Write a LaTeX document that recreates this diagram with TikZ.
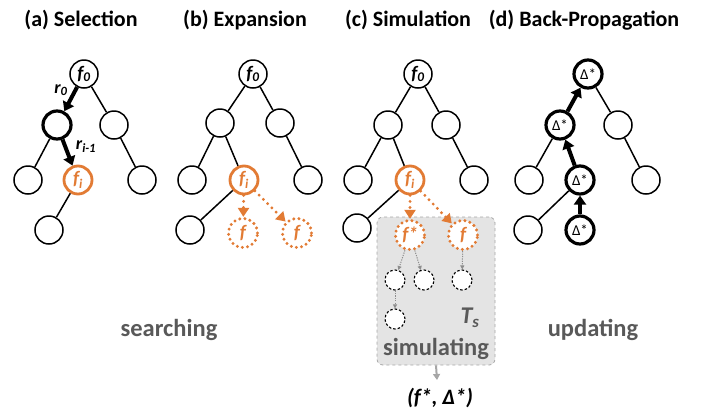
\documentclass[tikz,border=0pt]{standalone}
\usepackage{fontspec}
\setmainfont{Carlito}
\usetikzlibrary{arrows.meta}
\definecolor{myorange}{HTML}{E27B34}
\definecolor{txtgray}{HTML}{595959}
\definecolor{boxgray}{HTML}{E4E4E4}
\definecolor{linegray}{HTML}{A6A6A6}
\newcommand{\fl}[1]{{\fontsize{19}{19}\selectfont\bfseries\itshape f\textsubscript{#1}}}
\newcommand{\dl}{{\fontsize{15}{15}\selectfont Δ*}}
\begin{document}
\begin{tikzpicture}[x=1pt,y=-1pt,
  nd/.style={circle, draw=black, line width=1.5pt, minimum size=28pt, inner sep=0pt, fill=white},
  hot/.style={nd, draw=myorange, line width=2.8pt, text=myorange},
  boldnd/.style={nd, line width=3.2pt},
  dnode/.style={circle, minimum size=29pt, inner sep=0pt, fill=white, draw=myorange, line width=3.3pt, dash pattern=on 0pt off 5.2pt, line cap=round, text=myorange},
  sdash/.style={circle, minimum size=20pt, inner sep=0pt, draw=black, fill=white, line width=1.1pt, dash pattern=on 2.5pt off 2pt},
  edge/.style={line width=1.5pt},
  bigarrow/.style={line width=4pt, -{Triangle[length=9pt,width=12pt]}},
  odot/.style={draw=myorange, line width=3.2pt, dash pattern=on 0pt off 6pt, line cap=round, -{Triangle[length=9pt,width=11pt]}},
  gdot/.style={draw=linegray!85!black, line width=1pt, dash pattern=on 1.2pt off 1.2pt, -{Triangle[length=4pt,width=4pt]}},
  garrow/.style={draw=linegray, line width=2pt, -{Triangle[length=6pt,width=7pt]}},
  ttl/.style={font=\fontsize{22}{22}\selectfont\bfseries},
  glab/.style={font=\fontsize{24.5}{24.5}\selectfont\bfseries, text=txtgray},
  rlab/.style={font=\fontsize{18}{18}\selectfont\bfseries\itshape}
]
\useasboundingbox (0,0) rectangle (717,413);

% titles
\node[ttl] (ta) at (81,20) {(a) Selection};
\node[ttl] (tb) at (245,20) {(b) Expansion};
\node[ttl] (tc) at (408,20) {(c) Simulation};
\node[ttl] (td) at (584,20) {(d) Back-Propagation};

% ---------- tree a
\node[nd] (a0) at (84,74) {\fl{0}};
\node[boldnd] (aL) at (57,125) {};
\node[nd] (aR) at (114,125) {};
\node[nd] (aLL) at (28,180) {};
\node[hot] (ai) at (78,180) {\fl{i}};
\node[nd] (aRR) at (142,180) {};
\node[nd] (aLLL) at (49,230) {};
\draw[edge] (a0) -- (aR);
\draw[edge] (aL) -- (aLL);
\draw[edge] (aR) -- (aRR);
\draw[edge] (ai) -- (aLLL);
\draw[bigarrow] (a0) -- (aL);
\draw[bigarrow] (aL) -- (ai);
\node[rlab] (r0) at (61,90) {r\textsubscript{0}};
\node[rlab] (ri) at (86,147) {r\textsubscript{i-1}};

% ---------- tree b
\node[nd] (b0) at (253,74) {\fl{0}};
\node[nd] (bL) at (220,123) {};
\node[nd] (bR) at (280,123) {};
\node[nd] (bLL) at (192,180) {};
\node[hot] (bi) at (244,180) {\fl{i}};
\node[nd] (bRR) at (308,180) {};
\node[nd] (bLLL) at (190,230) {};
\node[dnode] (bc1) at (243,233) {\fontsize{19}{19}\selectfont\bfseries\itshape f};
\node[dnode] (bc2) at (297,233) {\fontsize{19}{19}\selectfont\bfseries\itshape f};
\draw[edge] (b0) -- (bL);
\draw[edge] (b0) -- (bR);
\draw[edge] (bL) -- (bLL);
\draw[edge] (bL) -- (bi);
\draw[edge] (bR) -- (bRR);
\draw[edge] (bi) -- (bLLL);
\draw[odot] (bi) -- (bc1);
\draw[odot] (bi) -- (bc2);

% ---------- tree c
\node[draw=linegray, dashed, line width=0.8pt, fill=boxgray, rounded corners=6pt, minimum width=118pt, minimum height=148pt] (box) at (436,291) {};
\node[nd] (c0) at (418,74) {\fl{0}};
\node[nd] (cL) at (388,125) {};
\node[nd] (cR) at (446,125) {};
\node[nd] (cLL) at (358,180) {};
\node[hot] (ci) at (410,180) {\fl{i}};
\node[nd] (cRR) at (474,180) {};
\node[nd] (cLLL) at (357,228) {};
\node[dnode] (cs) at (410,235) {\fontsize{19}{19}\selectfont\bfseries\itshape f*};
\node[dnode] (cf) at (463,235) {\fontsize{19}{19}\selectfont\bfseries\itshape f};
\node[sdash] (d1) at (395,280) {};
\node[sdash] (d2) at (424,280) {};
\node[sdash] (d3) at (462,280) {};
\node[sdash] (d4) at (395,319) {};
\draw[edge] (c0) -- (cL);
\draw[edge] (c0) -- (cR);
\draw[edge] (cL) -- (cLL);
\draw[edge] (cL) -- (ci);
\draw[edge] (cR) -- (cRR);
\draw[edge] (ci) -- (cLLL);
\draw[odot] (ci) -- (cs);
\draw[odot] (ci) -- (cf);
\draw[gdot] (cs) -- (d1);
\draw[gdot] (cs) -- (d2);
\draw[gdot] (cf) -- (d3);
\draw[gdot] (d1) -- (d4);
\node[font=\fontsize{24}{24}\selectfont\bfseries\itshape, text=txtgray] (ts) at (470,318) {T\textsubscript{s}};
\node[glab] (sim) at (436,349) {simulating};
\node[font=\fontsize{22}{22}\selectfont\bfseries\itshape] (res) at (440,398) {(f*, Δ*)};
\coordinate (resTop) at (437,380);
\draw[garrow] (box.south) -- (resTop);

% ---------- tree d
\node[boldnd] (e0) at (588,74) {\dl};
\node[boldnd] (eL) at (560,125) {\dl};
\node[nd] (eR) at (618,125) {};
\node[nd] (eLL) at (529,180) {};
\node[boldnd] (em) at (580,180) {\dl};
\node[nd] (eRR) at (646,180) {};
\node[nd] (eLLL) at (528,230) {};
\node[boldnd] (eB) at (580,230) {\dl};
\draw[edge] (e0) -- (eR);
\draw[edge] (eL) -- (eLL);
\draw[edge] (eR) -- (eRR);
\draw[edge] (em) -- (eLLL);
\draw[bigarrow] (eB) -- (em);
\draw[bigarrow] (em) -- (eL);
\draw[bigarrow] (eL) -- (e0);

% bottom labels
\node[glab] (srch) at (169,330) {searching};
\node[glab] (upd) at (593,330) {updating};
\end{tikzpicture}
\end{document}
